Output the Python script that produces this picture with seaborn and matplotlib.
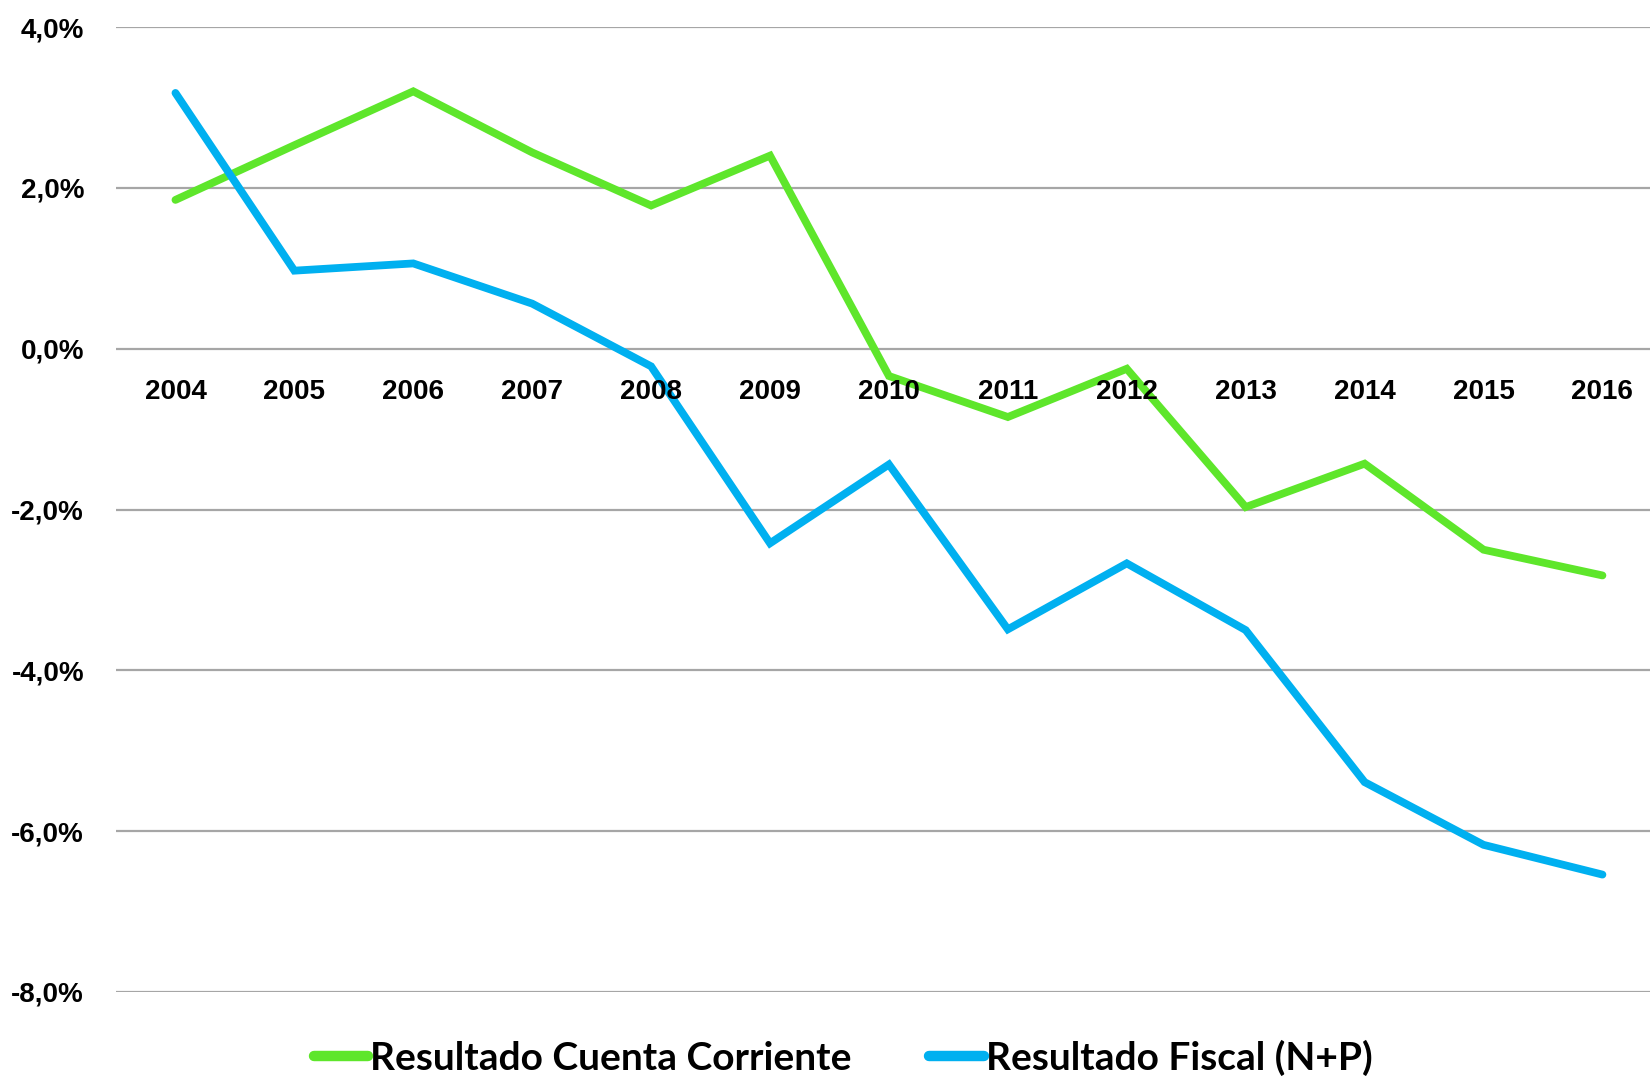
import matplotlib
matplotlib.use("Agg")
import matplotlib.pyplot as plt
import seaborn as sns
import pandas as pd
from matplotlib.ticker import FuncFormatter, FixedLocator

years = ["2004", "2005", "2006", "2007", "2008", "2009", "2010",
         "2011", "2012", "2013", "2014", "2015", "2016"]
cuenta_corriente = [1.85, 2.53, 3.20, 2.44, 1.78, 2.40, -0.34,
                    -0.85, -0.25, -1.97, -1.43, -2.50, -2.82]
resultado_fiscal = [3.18, 0.97, 1.06, 0.56, -0.22, -2.42, -1.44,
                    -3.49, -2.67, -3.50, -5.39, -6.17, -6.54]
series_names = ["Resultado Cuenta Corriente", "Resultado Fiscal (N+P)"]
y_ticks = [4, 2, 0, -2, -4, -6, -8]

df = pd.DataFrame({
    "year": years * 2,
    "idx": list(range(len(years))) * 2,
    "value": cuenta_corriente + resultado_fiscal,
    "serie": [series_names[0]] * len(years) + [series_names[1]] * len(years),
})

sns.set_theme(style="white")
green = "#5EE62B"
blue = "#00B0F0"

fig = plt.figure(figsize=(16.5, 10.78), dpi=100)
ax = fig.add_axes([116 / 1650, 1 - 992 / 1078, 1 - 116 / 1650, (992 - 27) / 1078])

# horizontal gridlines behind the data lines
for yv in y_ticks:
    ax.axhline(yv, color="#A6A6A6", linewidth=1.6, zorder=0.5)

sns.lineplot(data=df, x="idx", y="value", hue="serie",
             palette=[green, blue], linewidth=5.6, ax=ax,
             legend=True, solid_capstyle="round", solid_joinstyle="miter")

ax.set_xlim(-0.5, 12.4)
ax.set_ylim(-8, 4)
ax.grid(False)
ax.set_axisbelow(False)
ax.yaxis.set_major_locator(FixedLocator(y_ticks))
ax.yaxis.set_major_formatter(FuncFormatter(lambda v, p: f"{v:.1f}%".replace(".", ",")))
ax.set_xticks(range(len(years)))
ax.set_xticklabels(years)
for s in ["top", "right", "left"]:
    ax.spines[s].set_visible(False)
ax.spines["bottom"].set_position(("data", 0))
ax.spines["bottom"].set_visible(False)
ax.tick_params(axis="both", length=0)
ax.tick_params(axis="y", pad=23)
ax.tick_params(axis="x", pad=22)
for lab in ax.get_xticklabels() + ax.get_yticklabels():
    lab.set_fontfamily(["Liberation Sans", "DejaVu Sans"])
    lab.set_fontweight("bold")
    lab.set_fontsize(20)
    lab.set_color("black")
ax.set_xlabel("")
ax.set_ylabel("")

handles, labels = ax.get_legend_handles_labels()
for h in handles:
    h.set_linewidth(7.5)
    h.set_solid_capstyle("round")
leg = ax.legend(handles, labels, loc="center", bbox_to_anchor=(0.511, 0.019),
                bbox_transform=fig.transFigure, ncol=2, frameon=False,
                handlelength=1.4, handletextpad=0.05, columnspacing=2.0,
                prop={"family": ["Lato", "DejaVu Sans"], "weight": "bold", "size": 28})
for t in leg.get_texts():
    t.set_color("black")

fig.savefig("out.png", dpi=100)
